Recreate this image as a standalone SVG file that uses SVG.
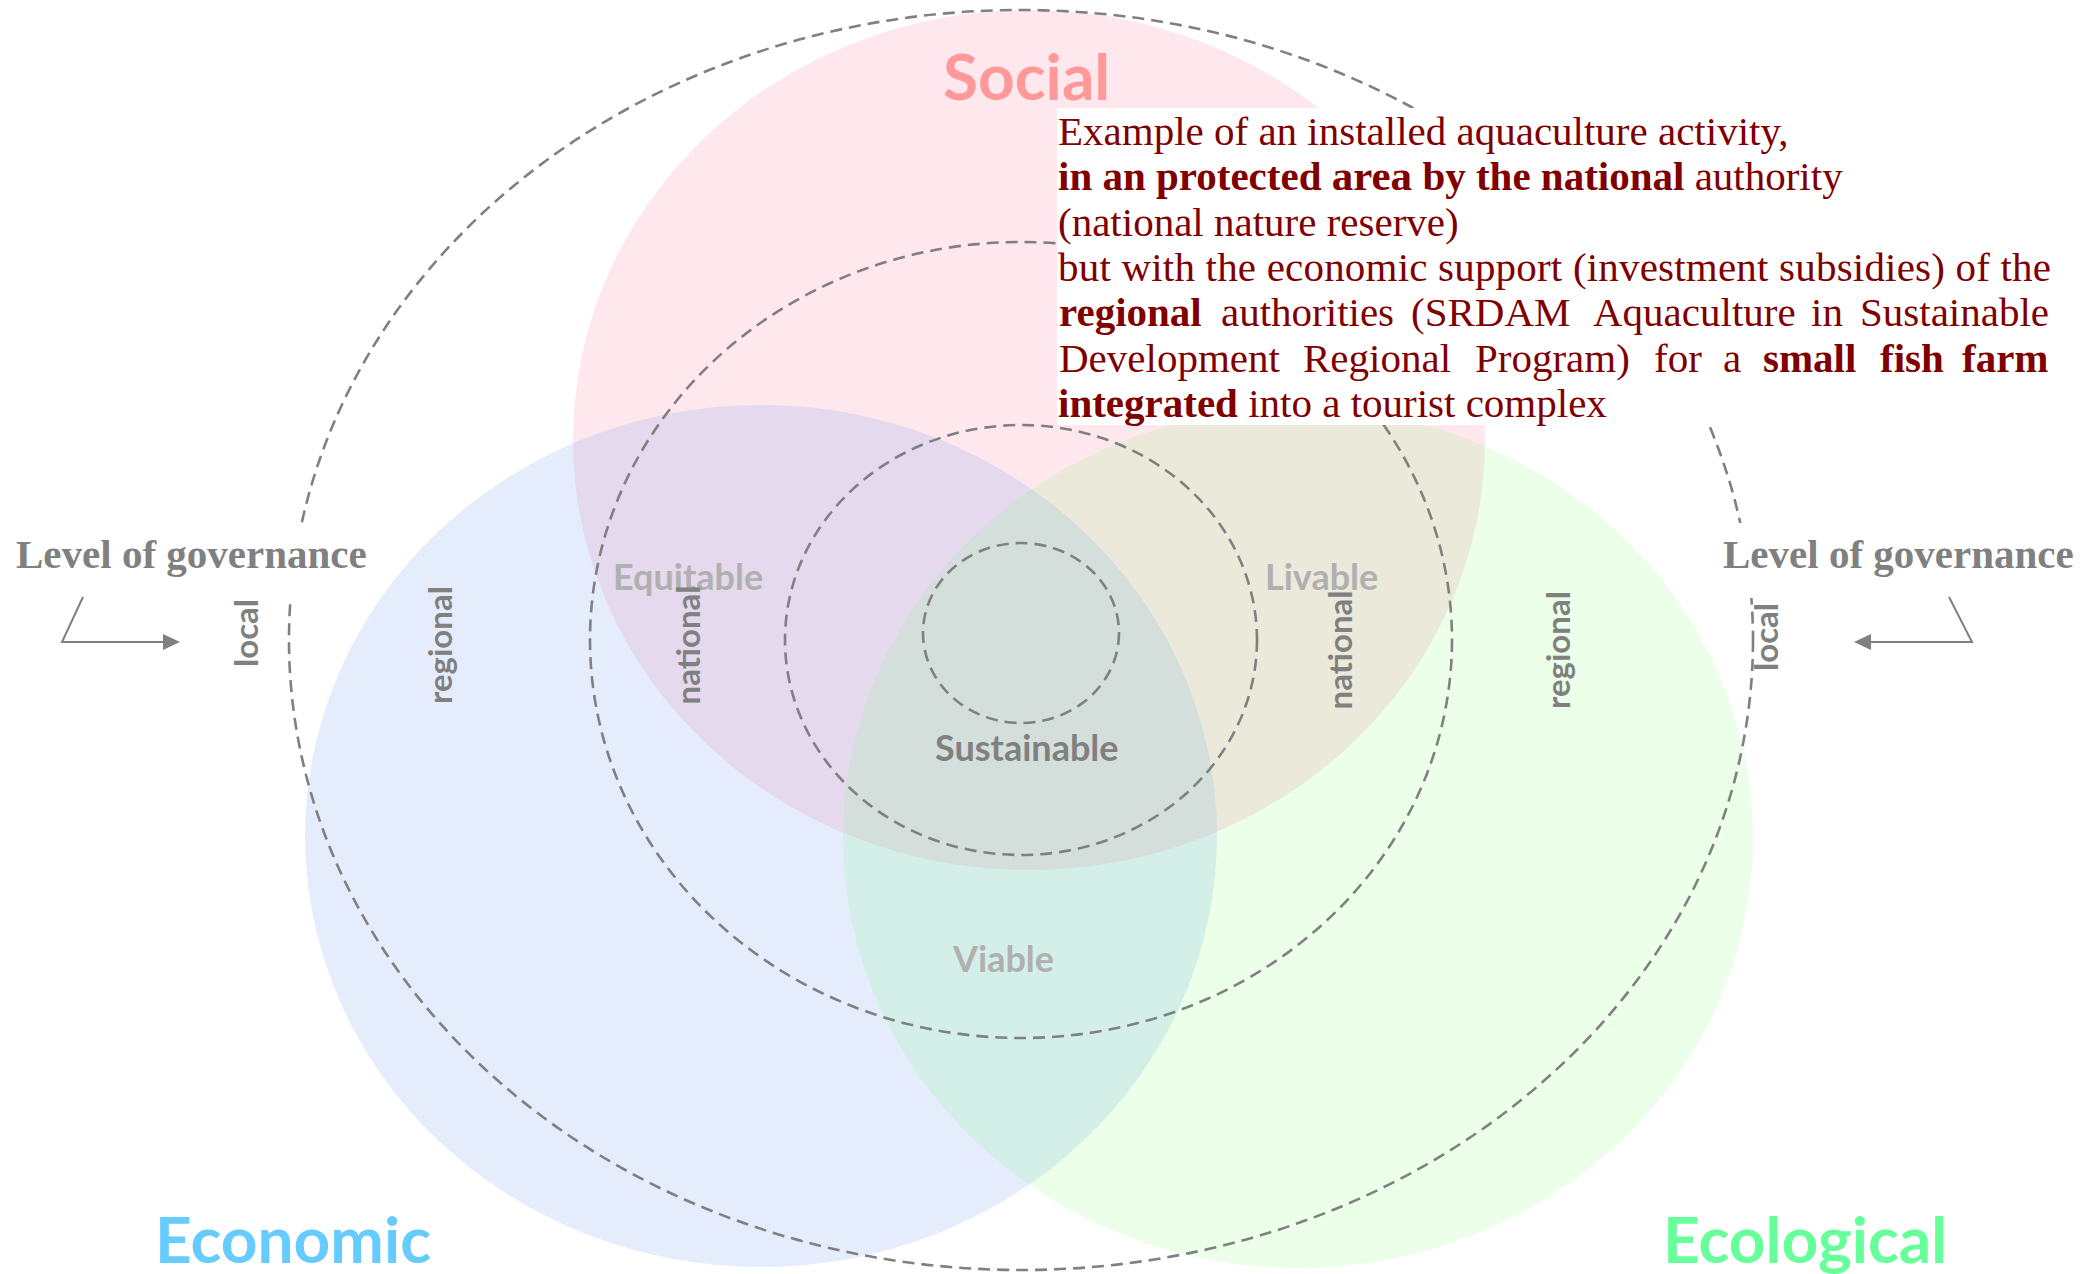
<svg xmlns="http://www.w3.org/2000/svg" width="2098" height="1274" viewBox="0 0 2098 1274">
<defs>
<style>
.dash{fill:none;stroke:#808080;stroke-width:2.6;stroke-dasharray:12 7}
.title{font-family:Lato,"Open Sans",sans-serif;font-weight:700;font-size:64px}
.lvl{font-family:"Liberation Serif","Times New Roman",serif;font-weight:700;font-size:41px;fill:#808080}
.rot{font-family:Lato,"Open Sans",sans-serif;font-weight:700;font-size:33px;fill:#808080;text-anchor:middle}
.qual{font-family:Lato,"Open Sans",sans-serif;font-weight:700;font-size:36px;fill:#b0b0b0}
.body{font-family:"Liberation Serif","Times New Roman",serif;font-size:41px;fill:#800000}
.b{font-weight:700}
.arr{fill:none;stroke:#808080;stroke-width:2}
</style>
</defs>
<rect width="2098" height="1274" fill="#ffffff"/>
<g id="circles">
<ellipse id="social-circle" cx="1029" cy="440" rx="456" ry="430" fill="#ff8fb0" fill-opacity="0.21"/>
<ellipse id="economic-circle" cx="761" cy="836" rx="456" ry="431" fill="#5b8ff0" fill-opacity="0.16"/>
<ellipse id="ecological-circle" cx="1298" cy="838" rx="455" ry="430" fill="#66ff55" fill-opacity="0.13"/>
</g>
<g id="levels">
<ellipse id="level-inner" class="dash" cx="1021" cy="633" rx="98" ry="90"/>
<ellipse id="level-national" class="dash" cx="1021" cy="640" rx="236" ry="215"/>
<ellipse id="level-regional" class="dash" cx="1021" cy="640" rx="431" ry="398"/>
<ellipse id="level-local" class="dash" cx="1021" cy="640" rx="732" ry="630"/>
</g>
<g id="masks" fill="#ffffff">
<rect x="1057" y="108" width="1041" height="317"/>
<rect x="10" y="523" width="370" height="75"/>
<rect x="1712" y="523" width="380" height="75"/>
</g>
<g id="titles">
<text id="social" class="title" x="943" y="100" fill="#ff9999">Social</text>
<text id="economic" class="title" x="155" y="1263" fill="#66ccff">Economic</text>
<text id="ecological" class="title" x="1663" y="1263" fill="#66ff99">Ecological</text>
</g>
<g id="qualities">
<text class="qual" x="613" y="590">Equitable</text>
<text class="qual" x="1265" y="590">Livable</text>
<text class="qual" x="953" y="972">Viable</text>
<text class="qual" x="935" y="761" style="fill:#808080">Sustainable</text>
</g>
<g id="level-labels">
<text class="rot" transform="translate(258,633) rotate(-90)">local</text>
<text class="rot" transform="translate(452,645) rotate(-90)">regional</text>
<text class="rot" transform="translate(700,645) rotate(-90)">national</text>
<text class="rot" transform="translate(1352,650) rotate(-90)">national</text>
<text class="rot" transform="translate(1570,650) rotate(-90)">regional</text>
<text class="rot" transform="translate(1778,637) rotate(-90)">local</text>
</g>
<g id="governance-left">
<text class="lvl" x="16" y="568">Level of governance</text>
</g>
<g id="governance-right">
<text class="lvl" x="1723" y="568">Level of governance</text>
</g>
<g id="connectors">
<polyline class="arr" points="83,597 62,642 165,642"/>
<polygon points="180,642 163,634 163,650" fill="#808080"/>
<polyline class="arr" points="1949,597 1972,642 1869,642"/>
<polygon points="1854,642 1871,634 1871,650" fill="#808080"/>
</g>
<g id="example-text" class="body">
<text x="1058" y="145">Example of an installed aquaculture activity,</text>
<text x="1058" y="190"><tspan class="b">in an protected </tspan><tspan class="b" style="font-size:43px">area</tspan><tspan class="b"> by the national</tspan> authority</text>
<text x="1058" y="236">(national nature reserve)</text>
<text x="1058" y="281" textLength="993" lengthAdjust="spacing">but with the economic support (investment subsidies) of the</text>
<text y="326"><tspan class="b" x="1059">regional</tspan><tspan x="1221">authorities</tspan><tspan x="1411">(SRDAM</tspan><tspan x="1593">Aquaculture</tspan><tspan x="1811">in</tspan><tspan x="1860">Sustainable</tspan></text>
<text y="372"><tspan x="1059">Development</tspan><tspan x="1303">Regional</tspan><tspan x="1475">Program)</tspan><tspan x="1654">for</tspan><tspan x="1723">a</tspan><tspan class="b" x="1763">small</tspan><tspan class="b" x="1880">fish</tspan><tspan class="b" x="1962">farm</tspan></text>
<text x="1058" y="417"><tspan class="b">integrated</tspan> into a tourist complex</text>
</g>
</svg>
